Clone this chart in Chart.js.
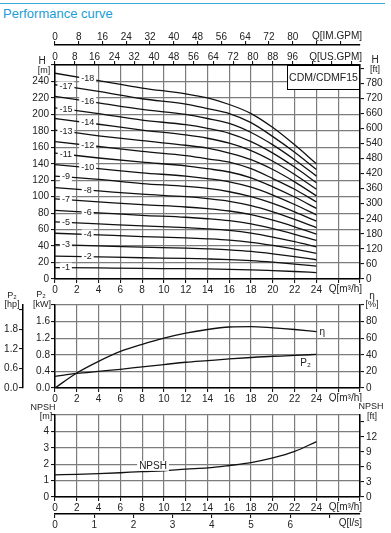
<!DOCTYPE html>
<html>
<head>
<meta charset="utf-8">
<script src="https://cdn.jsdelivr.net/npm/chart.js@4.4.1/dist/chart.umd.min.js"></script>
<style>
  html, body { margin: 0; padding: 0; background: #fff; }
  body { width: 391px; height: 533px; position: relative; overflow: hidden; font-family: "Liberation Sans", Arial, sans-serif; }
  #rule { position: absolute; left: 0; top: 3px; width: 385px; height: 1px; background: #3aaad8; }
  #title { position: absolute; left: 3px; top: 6px; font-size: 13px; line-height: 16px; color: #1b9dd5; }
  canvas { position: absolute; left: 0; }
</style>
</head>
<body>
<div id="rule"></div>
<div id="title">Performance curve</div>
<canvas id="headChart" width="391" height="274" style="top:24px"></canvas>
<canvas id="powerChart" width="391" height="112" style="top:290px"></canvas>
<canvas id="npshChart" width="391" height="133" style="top:400px"></canvas>
<script>
// Q-H curves, read at these flows (m3/h)
const flowQ = [0, 4, 8, 12, 14, 16, 18, 20, 22, 24];
const head1  = [13.9, 13.4, 12.9, 12.5, 12.2, 11.8, 11.2, 10.2, 9.1, 7.8];
const head2  = [27.8, 26.8, 25.8, 25, 24.4, 23.6, 22.3, 20.4, 18.1, 15.6];
const head3  = [41.7, 40.2, 38.7, 37.5, 36.6, 35.4, 33.5, 30.6, 27.2, 23.4];
const head4  = [55.6, 53.6, 51.6, 50, 48.8, 47.2, 44.6, 40.8, 36.2, 31.2];
const head5  = [69.5, 67, 64.5, 62.5, 61, 59, 55.8, 51, 45.3, 39];
const head6  = [83.4, 80.4, 77.4, 75, 73.2, 70.8, 66.9, 61.2, 54.3, 46.8];
const head7  = [97.3, 93.8, 90.3, 87.5, 85.4, 82.6, 78.1, 71.4, 63.4, 54.6];
const head8  = [111, 107, 103, 100, 97.6, 94.4, 89.2, 81.6, 72.4, 62.4];
const head9  = [125, 121, 116, 112.5, 110, 106, 100, 91.8, 81.5, 70.2];
const head10 = [139, 134, 129, 125, 122, 118, 111.5, 102, 90.5, 78];
const head11 = [153, 147, 142, 137.5, 134, 130, 123, 112, 99.6, 85.8];
const head12 = [167, 161, 155, 150, 146, 142, 134, 122, 109, 93.6];
const head13 = [181, 174, 168, 162.5, 159, 153, 145, 133, 118, 101];
const head14 = [195, 188, 181, 175, 171, 165, 156, 143, 127, 109];
const head15 = [208, 201, 193, 187.5, 183, 177, 167, 153, 136, 117];
const head16 = [222, 214, 206, 200, 195, 189, 178, 163, 145, 125];
const head17 = [236, 228, 219, 212.5, 207, 201, 190, 173, 154, 133];
const head18 = [250, 241, 232, 225, 220, 212, 201, 184, 163, 140];
const headCurves = [head1, head2, head3, head4, head5, head6, head7, head8, head9,
  head10, head11, head12, head13, head14, head15, head16, head17, head18];
const stageNames = ['-1', '-2', '-3', '-4', '-5', '-6', '-7', '-8', '-9',
  '-10', '-11', '-12', '-13', '-14', '-15', '-16', '-17', '-18'];

// P2 / efficiency / NPSH curves
const perfQ = [0, 2, 4, 6, 8, 10, 12, 14, 16, 18, 20, 22, 24];
const efficiency = [0, 18, 32, 44, 52.5, 60, 66, 70.5, 73.5, 74, 72.5, 70.5, 68];
const powerP2 = [0.28, 0.35, 0.40, 0.45, 0.51, 0.565, 0.62, 0.66, 0.70, 0.735, 0.765, 0.785, 0.81];
const npsh = [1.35, 1.38, 1.42, 1.48, 1.55, 1.6, 1.7, 1.77, 1.92, 2.1, 2.38, 2.78, 3.38];

const Q_MAX = 28;
const US_GPM = 4.4029, IM_GPM = 3.6662, M_TO_FT = 3.2808;

const FONT = '"Liberation Sans", Arial, sans-serif';
const tickFont = { family: FONT, size: 10 };
const gridColor = '#7c7c7c';
const ink = '#222';

function fixSize(w, h) {
  return function (s) { if (w != null) s.width = w; if (h != null) s.height = h; };
}
function pts(xs, ys) { return xs.map((x, i) => ({ x: x, y: ys[i] })); }

function axis(o) {
  return {
    type: 'linear', position: o.pos, min: o.min, max: o.max, weight: o.weight || 0,
    ticks: { stepSize: o.step, includeBounds: false, autoSkip: false, maxRotation: 0,
      padding: o.pad != null ? o.pad : 1, color: ink, font: tickFont, callback: o.label },
    grid: { drawOnChartArea: !!o.grid, color: gridColor, lineWidth: 1.2, tickLength: 4, tickColor: '#000', tickWidth: 1 },
    border: { color: '#000', width: 1.5 },
    afterFit: fixSize(o.w, o.h)
  };
}
function qAxis(h) {
  return axis({ pos: 'bottom', min: 0, max: Q_MAX, step: 2, grid: true, h: h,
    label: v => v <= 24 ? v : '' });
}

function text(ctx, s, x, y, align, size, bg) {
  ctx.save();
  ctx.font = (size || 10) + 'px ' + FONT;
  ctx.textAlign = align || 'center';
  ctx.textBaseline = 'middle';
  if (bg) {
    const w = ctx.measureText(s).width;
    let left = x - w / 2;
    if (align === 'left') left = x;
    if (align === 'right') left = x - w;
    ctx.fillStyle = '#fff';
    ctx.fillRect(left - 2, y - 5, w + 4, 10);
  }
  ctx.fillStyle = ink;
  ctx.fillText(s, x, y);
  ctx.restore();
}

const lineStyle = { borderColor: '#111', borderWidth: 1.3, pointRadius: 0, fill: false,
  cubicInterpolationMode: 'monotone' };

const common = {
  responsive: false, animation: false, devicePixelRatio: 1,
  plugins: { legend: { display: false }, tooltip: { enabled: false } }
};

// ---------- Q-H chart ----------
new Chart(document.getElementById('headChart'), {
  type: 'line',
  data: {
    datasets: headCurves.map((h, i) => Object.assign({ label: stageNames[i], data: pts(flowQ, h) }, lineStyle))
  },
  options: Object.assign({}, common, {
    layout: { padding: 0 },
    scales: {
      x: qAxis(19),
      y: axis({ pos: 'left', min: 0, max: 260, step: 20, grid: true, w: 55, pad: 2,
        label: v => v < 260 ? v : '' }),
      yft: axis({ pos: 'right', min: 0, max: 260 * M_TO_FT, step: 60, w: 31, pad: 2,
        label: v => v <= 780 ? v : '' }),
      xus: axis({ pos: 'top', min: 0, max: Q_MAX * US_GPM, step: 8, h: 20, weight: 0, pad: -2,
        label: v => v <= 96 ? v : '' }),
      xim: axis({ pos: 'top', min: 0, max: Q_MAX * IM_GPM, step: 8, h: 21, weight: 1, pad: -2,
        label: v => v <= 80 ? v : '' })
    }
  }),
  plugins: [{
    id: 'headText',
    afterDraw(chart) {
      const ctx = chart.ctx, a = chart.chartArea, sx = chart.scales.x, sy = chart.scales.y;
      text(ctx, 'H', 42, a.top - 4, 'center', 10);
      text(ctx, '[m]', 44, a.top + 6, 'center', 9);
      text(ctx, 'H', 375, a.top - 5, 'center', 10);
      text(ctx, '[ft]', 375, a.top + 5, 'center', 9);
      text(ctx, 'Q[US.GPM]', a.right + 2, a.top - 8, 'right', 10);
      text(ctx, 'Q[IM.GPM]', a.right + 2, a.top - 29, 'right', 10);
      text(ctx, 'Q[m³/h]', a.right + 2, a.bottom + 10, 'right', 10);
      // model box
      const bx = sx.getPixelForValue(21.3);
      ctx.save();
      ctx.fillStyle = '#fff';
      ctx.fillRect(bx, a.top, a.right - bx, 24);
      ctx.strokeStyle = '#000';
      ctx.lineWidth = 1;
      ctx.strokeRect(bx + 0.5, a.top + 0.5, a.right - bx - 1, 24);
      ctx.restore();
      text(ctx, 'CDM/CDMF15', (bx + a.right) / 2, a.top + 13, 'center', 10.5);
      // stage labels
      headCurves.forEach((h, i) => {
        const q = (i % 2 === 0) ? 1 : 3;
        const v = h[0] + (h[1] - h[0]) * q / flowQ[1];
        text(ctx, stageNames[i], sx.getPixelForValue(q), sy.getPixelForValue(v), 'center', 9, true);
      });
    }
  }]
});

// ---------- P2 / efficiency chart ----------
new Chart(document.getElementById('powerChart'), {
  type: 'line',
  data: {
    datasets: [
      Object.assign({ label: 'η', data: pts(perfQ, efficiency), yAxisID: 'yeff' }, lineStyle),
      Object.assign({ label: 'P2', data: pts(perfQ, powerP2), yAxisID: 'ykw' }, lineStyle)
    ]
  },
  options: Object.assign({}, common, {
    layout: { padding: { top: 15 } },
    scales: {
      x: qAxis(14),
      ykw: axis({ pos: 'left', min: 0, max: 2, step: 0.4, grid: true, w: 32, weight: 0,
        label: v => v < 1.99 ? v.toFixed(1) : '' }),
      yhp: axis({ pos: 'left', min: 0, max: 2.55, step: 0.6, w: 23, weight: 1,
        label: v => v < 1.9 ? v.toFixed(1) : '' }),
      yeff: axis({ pos: 'right', min: 0, max: 100, step: 20, w: 31, pad: 2,
        label: v => v < 100 ? v : '' })
    }
  }),
  plugins: [{
    id: 'powerText',
    afterDraw(chart) {
      const ctx = chart.ctx, a = chart.chartArea, sx = chart.scales.x;
      text(ctx, 'P₂', 12, 6, 'center', 9);
      text(ctx, '[hp]', 12, 15, 'center', 9);
      text(ctx, 'P₂', 41, 5, 'center', 9);
      text(ctx, '[kW]', 42, 15, 'center', 9);
      text(ctx, 'η', 372, 6, 'center', 10);
      text(ctx, '[%]', 372, 15, 'center', 9);
      text(ctx, 'Q[m³/h]', a.right + 2, a.bottom + 10, 'right', 10);
      const last = perfQ.length - 1;
      text(ctx, 'η', sx.getPixelForValue(perfQ[last]) + 3,
        chart.scales.yeff.getPixelForValue(efficiency[last]) + 1, 'left', 10);
      text(ctx, 'P₂', sx.getPixelForValue(23),
        chart.scales.ykw.getPixelForValue(powerP2[last]) + 9, 'center', 10);
    }
  }]
});

// ---------- NPSH chart ----------
new Chart(document.getElementById('npshChart'), {
  type: 'line',
  data: {
    datasets: [Object.assign({ label: 'NPSH', data: pts(perfQ, npsh), yAxisID: 'ynp' }, lineStyle)]
  },
  options: Object.assign({}, common, {
    layout: { padding: { top: 15 } },
    scales: {
      x: qAxis(17),
      xls: axis({ pos: 'bottom', min: 0, max: Q_MAX / 3.6, step: 1, h: 19, weight: 1,
        label: v => v <= 6 ? v : '' }),
      ynp: axis({ pos: 'left', min: 0, max: 5, step: 1, grid: true, w: 55, pad: 2,
        label: v => v < 5 ? v : '' }),
      ynpft: axis({ pos: 'right', min: 0, max: 5 * M_TO_FT, step: 3, w: 31, pad: 2,
        label: v => v <= 12 ? v : '' })
    }
  }),
  plugins: [{
    id: 'npshText',
    afterDraw(chart) {
      const ctx = chart.ctx, a = chart.chartArea, sx = chart.scales.x;
      text(ctx, 'NPSH', 43, 8, 'center', 9);
      text(ctx, '[m]', 46, 17, 'center', 9);
      text(ctx, 'NPSH', 371, 7, 'center', 9);
      text(ctx, '[ft]', 372, 17, 'center', 9);
      text(ctx, 'Q[m³/h]', a.right + 2, a.bottom + 10, 'right', 10);
      text(ctx, 'Q[l/s]', a.right + 2, a.bottom + 26, 'right', 10);
      text(ctx, 'NPSH', sx.getPixelForValue(9), chart.scales.ynp.getPixelForValue(1.9), 'center', 10, true);
    }
  }]
});
</script>
</body>
</html>
